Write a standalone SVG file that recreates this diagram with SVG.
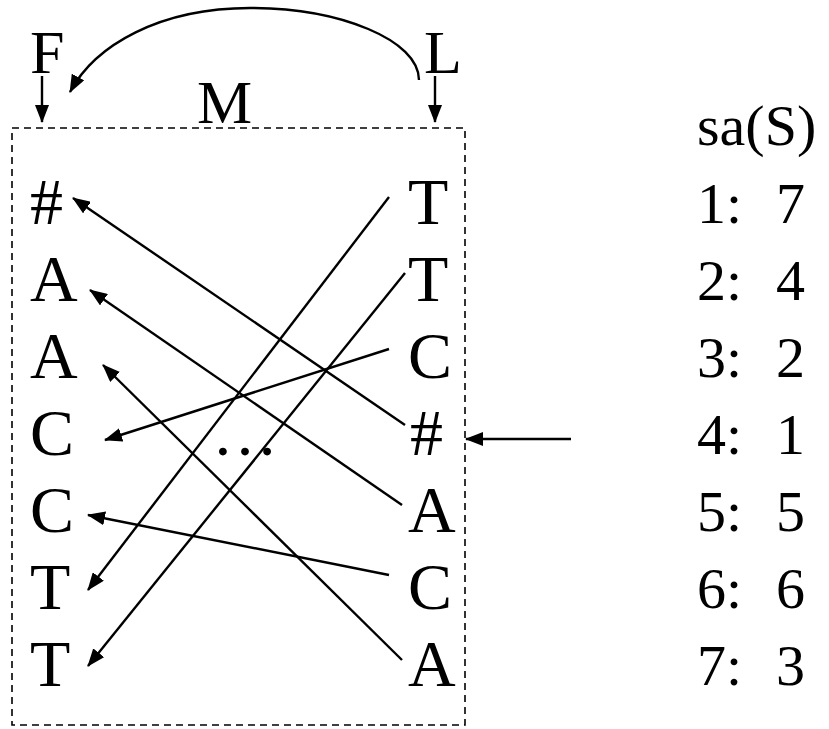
<svg xmlns="http://www.w3.org/2000/svg" width="829" height="729" viewBox="0 0 829 729">
<style>
text{font-family:"Liberation Serif","Times New Roman",serif;fill:#000}
.big{font-size:66px}
.hd{font-size:62px}
.sa{font-size:58px}
.ln{stroke:#000;stroke-width:2.4;fill:none}
</style>
<defs>
<marker id="ah" viewBox="0 0 18 14" refX="17" refY="7" markerWidth="18" markerHeight="14" markerUnits="userSpaceOnUse" orient="auto">
<path d="M0,0 L18,7 L0,14 Z" fill="#000"/>
</marker>
</defs>
<rect x="12" y="128" width="453" height="597" fill="none" stroke="#000" stroke-width="1.6" stroke-dasharray="7,5"/>
<g id="header">
<text class="hd" x="30" y="73">F</text>
<text class="hd" x="424" y="73">L</text>
<text class="hd" x="197" y="123">M</text>
</g>
<g id="F-col">
<text class="big" x="30" y="224">#</text>
<text class="big" x="30" y="301">A</text>
<text class="big" x="30" y="378">A</text>
<text class="big" x="30" y="455">C</text>
<text class="big" x="30" y="532">C</text>
<text class="big" x="30" y="609">T</text>
<text class="big" x="30" y="686">T</text>
</g>
<g id="L-col">
<text class="big" x="408" y="224">T</text>
<text class="big" x="408" y="301">T</text>
<text class="big" x="408" y="378">C</text>
<text class="big" x="410" y="455">#</text>
<text class="big" x="408" y="532">A</text>
<text class="big" x="408" y="609">C</text>
<text class="big" x="408" y="686">A</text>
</g>
<g id="dots"><text class="big" x="212" y="455">…</text></g>
<g id="sa">
<text class="sa" x="697" y="145">sa(S)</text>
<text class="sa" y="223"><tspan x="697">1:</tspan><tspan x="776">7</tspan></text>
<text class="sa" y="300"><tspan x="697">2:</tspan><tspan x="776">4</tspan></text>
<text class="sa" y="377"><tspan x="697">3:</tspan><tspan x="776">2</tspan></text>
<text class="sa" y="454"><tspan x="697">4:</tspan><tspan x="776">1</tspan></text>
<text class="sa" y="531"><tspan x="697">5:</tspan><tspan x="776">5</tspan></text>
<text class="sa" y="608"><tspan x="697">6:</tspan><tspan x="776">6</tspan></text>
<text class="sa" y="685"><tspan x="697">7:</tspan><tspan x="776">3</tspan></text>
</g>
<g id="connectors" class="ln">
<line x1="42" y1="76" x2="42" y2="122" marker-end="url(#ah)"/>
<line x1="435" y1="76" x2="435" y2="122" marker-end="url(#ah)"/>
<path d="M419,80 C419,40 340,8 250,8 C160,8 95,45 70,92" marker-end="url(#ah)"/>
<line x1="405" y1="425" x2="73" y2="198" marker-end="url(#ah)"/>
<line x1="402" y1="505" x2="90" y2="290" marker-end="url(#ah)"/>
<line x1="402" y1="660" x2="103" y2="365" marker-end="url(#ah)"/>
<line x1="389" y1="349" x2="105" y2="440" marker-end="url(#ah)"/>
<line x1="389" y1="575" x2="88" y2="515" marker-end="url(#ah)"/>
<line x1="389" y1="197" x2="88" y2="590" marker-end="url(#ah)"/>
<line x1="405" y1="273" x2="88" y2="666" marker-end="url(#ah)"/>
<line x1="571" y1="439" x2="466" y2="439" marker-end="url(#ah)"/>
</g>
</svg>
